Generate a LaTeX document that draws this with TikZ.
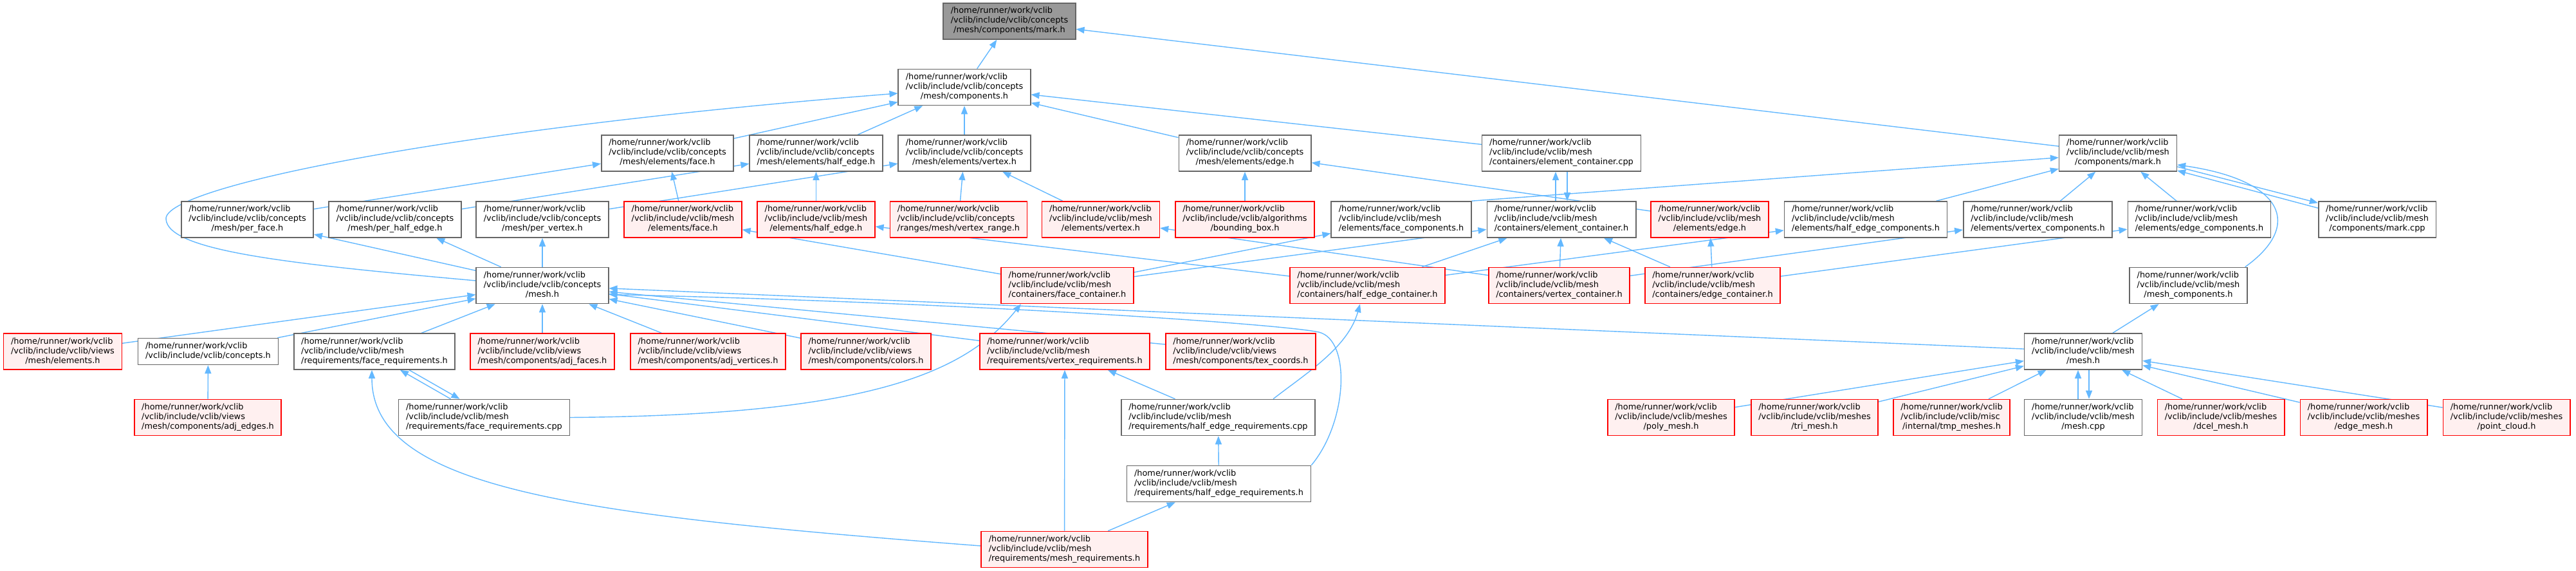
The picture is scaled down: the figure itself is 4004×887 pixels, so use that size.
\documentclass[tikz,border=0pt]{standalone}
\usepackage{fontspec}
\setmainfont{DejaVu Sans}
\usetikzlibrary{arrows.meta}

\definecolor{depblue}{HTML}{63B8FF}
\definecolor{framegray}{HTML}{666666}
\definecolor{rootgray}{HTML}{999999}
\definecolor{truncfill}{HTML}{FFF0F0}
\definecolor{truncdraw}{HTML}{FF0000}

\pgfdeclarelayer{links}
\pgfsetlayers{links,main}

\newcommand{\dfont}{\fontsize{6.45pt}{7.5pt}\selectfont}
% three-line file label: first lines left, last line centred
\newcommand{\fpath}[2]{\begin{tabular}{@{}l@{}}/home/runner/work/vclib\\#1\\\multicolumn{1}{@{}c@{}}{#2}\end{tabular}}

\begin{document}
\begin{tikzpicture}[
    x=0.5pt, y=-0.5pt,
    file/.style={rectangle, draw=framegray, fill=white, line width=0.8pt, inner xsep=5.75pt, inner ysep=2.75pt, font=\dfont},
    root/.style={file, fill=rootgray},
    trunc/.style={file, draw=truncdraw, fill=truncfill},
    dep/.style={draw=depblue, line width=0.7pt, -{Triangle[length=6.5pt, width=5pt]}}
]
    \useasboundingbox (0,0) rectangle (4004,887);

    % top
    \node[root] (cmark) at (1569,33) {\fpath{/vclib/include/vclib/concepts}{/mesh/components/mark.h}};
    \node[file] (ccomp) at (1499,135.5) {\fpath{/vclib/include/vclib/concepts}{/mesh/components.h}};

    % row 3
    \node[file] (cface) at (1037.5,238) {\fpath{/vclib/include/vclib/concepts}{/mesh/elements/face.h}};
    \node[file] (chedge) at (1268.5,238) {\fpath{/vclib/include/vclib/concepts}{/mesh/elements/half\_edge.h}};
    \node[file] (cvert) at (1499,238) {\fpath{/vclib/include/vclib/concepts}{/mesh/elements/vertex.h}};
    \node[file] (cedge) at (1935,238) {\fpath{/vclib/include/vclib/concepts}{/mesh/elements/edge.h}};
    \node[file] (eccpp) at (2427,238) {\fpath{/vclib/include/vclib/mesh}{/containers/element\_container.cpp}};
    \node[file] (mmark) at (3292,238) {\fpath{/vclib/include/vclib/mesh}{/components/mark.h}};

    % row 4
    \node[file] (perface) at (384.5,341) {\fpath{/vclib/include/vclib/concepts}{/mesh/per\_face.h}};
    \node[file] (perhedge) at (614,341) {\fpath{/vclib/include/vclib/concepts}{/mesh/per\_half\_edge.h}};
    \node[file] (pervert) at (843,341) {\fpath{/vclib/include/vclib/concepts}{/mesh/per\_vertex.h}};
    \node[trunc] (mface) at (1061.5,341) {\fpath{/vclib/include/vclib/mesh}{/elements/face.h}};
    \node[trunc] (mhedge) at (1268.5,341) {\fpath{/vclib/include/vclib/mesh}{/elements/half\_edge.h}};
    \node[trunc] (vrange) at (1490,341) {\fpath{/vclib/include/vclib/concepts}{/ranges/mesh/vertex\_range.h}};
    \node[trunc] (mvert) at (1711,341) {\fpath{/vclib/include/vclib/mesh}{/elements/vertex.h}};
    \node[trunc] (bbox) at (1935,341) {\fpath{/vclib/include/vclib/algorithms}{/bounding\_box.h}};
    \node[file] (facecomp) at (2178,341) {\fpath{/vclib/include/vclib/mesh}{/elements/face\_components.h}};
    \node[file] (elemcont) at (2427,341) {\fpath{/vclib/include/vclib/mesh}{/containers/element\_container.h}};
    \node[trunc] (medge) at (2657.5,341) {\fpath{/vclib/include/vclib/mesh}{/elements/edge.h}};
    \node[file] (hedgecomp) at (2900,341) {\fpath{/vclib/include/vclib/mesh}{/elements/half\_edge\_components.h}};
    \node[file] (vertcomp) at (3167.5,341) {\fpath{/vclib/include/vclib/mesh}{/elements/vertex\_components.h}};
    \node[file] (edgecomp) at (3418.5,341) {\fpath{/vclib/include/vclib/mesh}{/elements/edge\_components.h}};
    \node[file] (markcpp) at (3695,341) {\fpath{/vclib/include/vclib/mesh}{/components/mark.cpp}};

    % row 5
    \node[file] (cmesh) at (843,443.5) {\fpath{/vclib/include/vclib/concepts}{/mesh.h}};
    \node[trunc] (facecont) at (1659,443.5) {\fpath{/vclib/include/vclib/mesh}{/containers/face\_container.h}};
    \node[trunc] (hedgecont) at (2125.5,443.5) {\fpath{/vclib/include/vclib/mesh}{/containers/half\_edge\_container.h}};
    \node[trunc] (vertcont) at (2423.5,443.5) {\fpath{/vclib/include/vclib/mesh}{/containers/vertex\_container.h}};
    \node[trunc] (edgecont) at (2662,443.5) {\fpath{/vclib/include/vclib/mesh}{/containers/edge\_container.h}};
    \node[file] (meshcomp) at (3401.5,443.5) {\fpath{/vclib/include/vclib/mesh}{/mesh\_components.h}};

    % row 6
    \node[trunc] (velements) at (97.5,546) {\fpath{/vclib/include/vclib/views}{/mesh/elements.h}};
    \node[file] (concepts) at (323.5,546) {\begin{tabular}{@{}l@{}}/home/runner/work/vclib\\/vclib/include/vclib/concepts.h\end{tabular}};
    \node[file] (facereq) at (582,546) {\fpath{/vclib/include/vclib/mesh}{/requirements/face\_requirements.h}};
    \node[trunc] (adjfaces) at (843,546) {\fpath{/vclib/include/vclib/views}{/mesh/components/adj\_faces.h}};
    \node[trunc] (adjverts) at (1100.5,546) {\fpath{/vclib/include/vclib/views}{/mesh/components/adj\_vertices.h}};
    \node[trunc] (colors) at (1346,546) {\fpath{/vclib/include/vclib/views}{/mesh/components/colors.h}};
    \node[trunc] (vertreq) at (1655,546) {\fpath{/vclib/include/vclib/mesh}{/requirements/vertex\_requirements.h}};
    \node[trunc] (texcoords) at (1928.5,546) {\fpath{/vclib/include/vclib/views}{/mesh/components/tex\_coords.h}};
    \node[file] (meshh) at (3238,546) {\fpath{/vclib/include/vclib/mesh}{/mesh.h}};

    % row 7
    \node[trunc] (adjedges) at (323,648.5) {\fpath{/vclib/include/vclib/views}{/mesh/components/adj\_edges.h}};
    \node[file] (facereqcpp) at (752.5,648.5) {\fpath{/vclib/include/vclib/mesh}{/requirements/face\_requirements.cpp}};
    \node[file] (hedgereqcpp) at (1893.5,648.5) {\fpath{/vclib/include/vclib/mesh}{/requirements/half\_edge\_requirements.cpp}};
    \node[trunc] (polymesh) at (2597.5,648.5) {\fpath{/vclib/include/vclib/meshes}{/poly\_mesh.h}};
    \node[trunc] (trimesh) at (2820.5,648.5) {\fpath{/vclib/include/vclib/meshes}{/tri\_mesh.h}};
    \node[trunc] (tmpmeshes) at (3033.5,648.5) {\fpath{/vclib/include/vclib/misc}{/internal/tmp\_meshes.h}};
    \node[file] (meshcpp) at (3238,648.5) {\fpath{/vclib/include/vclib/mesh}{/mesh.cpp}};
    \node[trunc] (dcelmesh) at (3452,648.5) {\fpath{/vclib/include/vclib/meshes}{/dcel\_mesh.h}};
    \node[trunc] (edgemesh) at (3674,648.5) {\fpath{/vclib/include/vclib/meshes}{/edge\_mesh.h}};
    \node[trunc] (pointcloud) at (3896,648.5) {\fpath{/vclib/include/vclib/meshes}{/point\_cloud.h}};

    % rows 8 and 9
    \node[file] (hedgereq) at (1894.5,751.5) {\fpath{/vclib/include/vclib/mesh}{/requirements/half\_edge\_requirements.h}};
    \node[trunc] (meshreq) at (1654.5,853.5) {\fpath{/vclib/include/vclib/mesh}{/requirements/mesh\_requirements.h}};

    \begin{pgfonlayer}{links}
    % concepts/mesh/components
    \draw[dep] (ccomp) -- (cmark);
    \draw[dep] (mmark) -- (cmark);
    \draw[dep] (cface) -- (ccomp);
    \draw[dep] (chedge) -- (ccomp);
    \draw[dep] (cvert) -- (ccomp);
    \draw[dep] (cedge) -- (ccomp);
    \draw[dep] (eccpp) -- (ccomp);
    \draw[dep] ([yshift=3.75pt]cmesh.west) .. controls (450,410) and (260,390) .. (258,340)
        .. controls (256,290) and (700,200) .. ([yshift=-4.75pt]ccomp.west);

    % concepts/mesh/elements
    \draw[dep] (mface) -- (cface);
    \draw[dep] (perface) -- (cface);
    \draw[dep] (mhedge) -- (chedge);
    \draw[dep] (perhedge) -- (chedge);
    \draw[dep] (vrange) -- (cvert);
    \draw[dep] (mvert) -- (cvert);
    \draw[dep] (pervert) -- (cvert);
    \draw[dep] (bbox) -- (cedge);
    \draw[dep] (medge) -- (cedge);

    % element container
    \draw[dep] ([xshift=-4.5pt]elemcont.north) -- ([xshift=-4.5pt]eccpp.south);
    \draw[dep] ([xshift=4.5pt]eccpp.south) -- ([xshift=4.5pt]elemcont.north);

    % mesh/components/mark.h
    \draw[dep] (facecomp.north east) -- (mmark);
    \draw[dep] (hedgecomp) -- (mmark);
    \draw[dep] (vertcomp) -- (mmark);
    \draw[dep] (edgecomp) -- (mmark);
    \draw[dep] ([xshift=-2pt]meshcomp.north east) .. controls (3580,350) and (3550,280) .. ([yshift=-9pt]mmark.east);
    \draw[dep] ([yshift=-10.5pt]mmark.east) -- ([yshift=-1.5pt]markcpp.north west);
    \draw[dep] ([yshift=-5.5pt]markcpp.north west) -- ([yshift=-13.5pt]mmark.east);

    % containers
    \draw[dep] (facecont) -- (mface);
    \draw[dep] (facecont) -- (facecomp);
    \draw[dep] (facecont) -- (elemcont);
    \draw[dep] (hedgecont) -- (mhedge);
    \draw[dep] (hedgecont) -- (elemcont);
    \draw[dep] (hedgecont) -- (hedgecomp);
    \draw[dep] (vertcont) -- (mvert);
    \draw[dep] (vertcont) -- (elemcont);
    \draw[dep] (vertcont) -- (vertcomp);
    \draw[dep] (edgecont) -- (medge);
    \draw[dep] (edgecont) -- (elemcont);
    \draw[dep] (edgecont) -- (edgecomp);

    % concepts/mesh.h
    \draw[dep] (cmesh) -- (perface);
    \draw[dep] (cmesh) -- (perhedge);
    \draw[dep] (cmesh) -- (pervert);
    \draw[dep] (velements) -- (cmesh);
    \draw[dep] (concepts) -- (cmesh);
    \draw[dep] (facereq) -- (cmesh);
    \draw[dep] (adjfaces) -- (cmesh);
    \draw[dep] (adjverts) -- (cmesh);
    \draw[dep] (colors) -- (cmesh);
    \draw[dep] (vertreq) -- (cmesh);
    \draw[dep] (texcoords) -- (cmesh);
    \draw[dep] (meshh) -- (cmesh);
    \draw[dep] (hedgereq.north east) .. controls (2095,655) and (2100,528) .. (2050,516)
        .. controls (1990,503) and (1500,470) .. ([yshift=-7pt]cmesh.east);
    \draw[dep] (adjedges) -- (concepts);

    % requirements
    \draw[dep] ([yshift=2.75pt]meshreq.west) .. controls (900,800) and (578,760) .. ([xshift=-2pt]facereq.south);
    \draw[dep] ([xshift=-26pt]facereqcpp.north) -- ([xshift=20pt]facereq.south);
    \draw[dep] ([xshift=27pt]facereq.south) -- ([xshift=-19pt]facereqcpp.north);
    \draw[dep] (facereqcpp.east) .. controls (1350,645) and (1500,580) .. ([xshift=-36pt]facecont.south);
    \draw[dep] (meshreq) -- (vertreq);
    \draw[dep] (hedgereqcpp) -- (vertreq);
    \draw[dep] ([xshift=42.75pt]hedgereqcpp.north) .. controls (2030,580) and (2095,540) .. ([xshift=-5.75pt]hedgecont.south);
    \draw[dep] (hedgereq) -- (hedgereqcpp);
    \draw[dep] (meshreq) -- (hedgereq);

    % mesh/mesh.h
    \draw[dep] (meshh) -- (meshcomp);
    \draw[dep] (polymesh) -- (meshh);
    \draw[dep] (trimesh) -- (meshh);
    \draw[dep] (tmpmeshes) -- (meshh);
    \draw[dep] ([xshift=-4pt]meshcpp.north) -- ([xshift=-4pt]meshh.south);
    \draw[dep] ([xshift=4.5pt]meshh.south) -- ([xshift=4.5pt]meshcpp.north);
    \draw[dep] (dcelmesh) -- (meshh);
    \draw[dep] (edgemesh) -- (meshh);
    \draw[dep] (pointcloud) -- (meshh);
    \end{pgfonlayer}
\end{tikzpicture}
\end{document}
